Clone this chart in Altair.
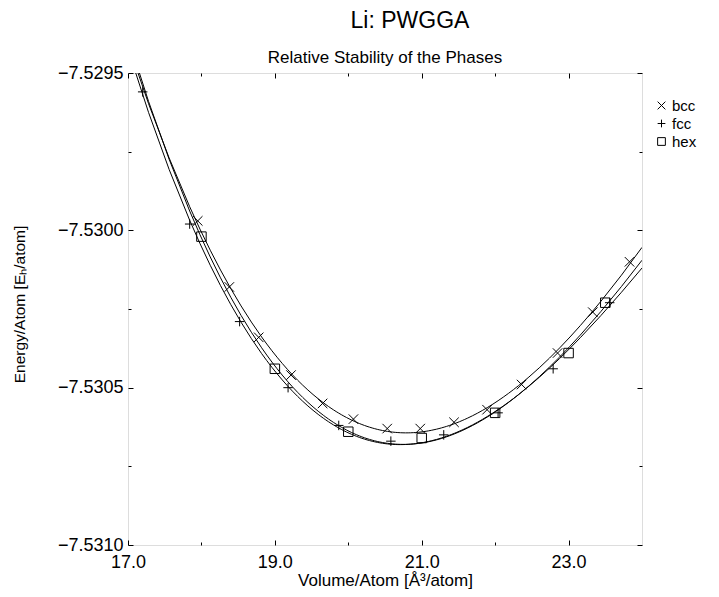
import altair as alt
import pandas as pd

FONT = "Liberation Sans"

phases = ["bcc", "fcc", "hex"]

bcc_v = [17.95, 18.38, 18.78, 19.22, 19.65, 20.07, 20.53, 20.98, 21.44, 21.89, 22.36, 22.85, 23.33, 23.83]
bcc_e = [-7.52997, -7.53018, -7.53034, -7.53046, -7.53055, -7.53060, -7.53063, -7.53063,
         -7.53061, -7.53057, -7.53049, -7.53039, -7.53026, -7.53010]

fcc_v = [17.20, 17.84, 18.52, 19.18, 19.87, 20.58, 21.30, 22.04, 22.79, 23.56]
fcc_e = [-7.52956, -7.52998, -7.53029, -7.53050, -7.53062, -7.53067, -7.53065, -7.53058,
         -7.53044, -7.53023]

hex_v = [18.0, 19.0, 20.0, 21.0, 22.0, 23.0, 23.5]
hex_e = [-7.53002, -7.53044, -7.53064, -7.53066, -7.53058, -7.53039, -7.53023]

x_major = [17, 19, 21, 23]
x_minor = [18, 20, 22]
y_major = [-7.5310, -7.5305, -7.5300, -7.5295]
y_minor = [-7.53075, -7.53025, -7.52975]

title_text = "Li: PWGGA"
subtitle_text = "Relative Stability of the Phases"
x_title = "Volume/Atom [Å³/atom]"
y_title = "Energy/Atom [Eₕ/atom]"

rows = []
for name, vs, es in [("bcc", bcc_v, bcc_e), ("fcc", fcc_v, fcc_e), ("hex", hex_v, hex_e)]:
    for v, e in zip(vs, es):
        rows.append({"phase": name, "V": v, "E": e})
df = pd.DataFrame(rows)

xs = alt.Scale(domain=[17, 24], nice=False, zero=False)
ys = alt.Scale(domain=[-7.5310, -7.5295], nice=False, zero=False)

base = alt.Chart(df)


def tick_axis(orient, values, size):
    return alt.Axis(orient=orient, values=values, tickSize=size, offset=-size,
                    domain=False, labels=False, grid=False, title=None,
                    tickColor="black", tickWidth=1)


lines = base.transform_regression(
    "V", "E", groupby=["phase"], method="poly", order=3, extent=[17, 24]
).mark_line(clip=True, color="black", strokeWidth=1).encode(
    x=alt.X("V:Q", scale=xs, axis=alt.Axis(
        orient="bottom", values=x_major, format=".1f", tickSize=5, offset=-5,
        domain=False, grid=False, labelFlush=False, labelFont=FONT, labelFontSize=18,
        labelColor="black", labelPadding=8, tickColor="black",
        title=x_title, titleFont=FONT, titleFontSize=17, titleFontWeight="normal",
        titleColor="black", titlePadding=1)),
    y=alt.Y("E:Q", scale=ys, axis=alt.Axis(
        orient="left", values=y_major, format=".4f", tickSize=5, offset=-5,
        domain=False, grid=False, labelFont=FONT, labelFontSize=18,
        labelColor="black", labelPadding=5, tickColor="black",
        title=y_title, titleFont=FONT, titleFontSize=15.5, titleFontWeight="normal",
        titleColor="black", titlePadding=30, titleY=231)),
    detail="phase:N",
)

shape_paths = ["M-1,-1L1,1M-1,1L1,-1", "M-1,0L1,0M0,-1L0,1", "square"]

points = base.mark_point(filled=False, color="black", strokeWidth=1, opacity=1, size=90).encode(
    x=alt.X("V:Q", scale=xs, axis=None),
    y=alt.Y("E:Q", scale=ys, axis=None),
    shape=alt.Shape("phase:N", scale=alt.Scale(domain=phases, range=shape_paths),
                    legend=alt.Legend(title=None, orient="none", legendX=526, legendY=25,
                                      labelFont=FONT, labelFontSize=15, labelColor="black",
                                      symbolSize=60, symbolStrokeWidth=1,
                                      symbolStrokeColor="black", symbolFillColor="white",
                                      rowPadding=2, labelOffset=3)),
)

minor_bl = base.mark_point(opacity=0).encode(
    x=alt.X("V:Q", scale=xs, axis=tick_axis("bottom", x_minor, 3)),
    y=alt.Y("E:Q", scale=ys, axis=tick_axis("left", y_minor, 3)),
)
major_tr = base.mark_point(opacity=0).encode(
    x=alt.X("V:Q", scale=xs, axis=tick_axis("top", x_major, 5)),
    y=alt.Y("E:Q", scale=ys, axis=tick_axis("right", y_major, 5)),
)
minor_tr = base.mark_point(opacity=0).encode(
    x=alt.X("V:Q", scale=xs, axis=tick_axis("top", x_minor, 3)),
    y=alt.Y("E:Q", scale=ys, axis=tick_axis("right", y_minor, 3)),
)

main_title = alt.Chart(pd.DataFrame({"t": [title_text]})).mark_text(
    font=FONT, fontSize=23, color="black", align="center", baseline="alphabetic"
).encode(text="t:N", x=alt.value(282), y=alt.value(-45))

subtitle = alt.Chart(pd.DataFrame({"t": [subtitle_text]})).mark_text(
    font=FONT, fontSize=17, color="black", align="center", baseline="alphabetic"
).encode(text="t:N", x=alt.value(257), y=alt.value(-10))

chart = alt.layer(lines, points, minor_bl, major_tr, minor_tr, main_title, subtitle).resolve_axis(
    x="independent", y="independent"
).properties(
    width=514, height=472,
    autosize=alt.AutoSizeParams(type="none"),
    padding={"left": 120, "top": 65, "right": 69, "bottom": 44},
).configure_view(stroke="black", strokeWidth=1).configure(background="white")

chart.save("out.html", embed_options={"renderer": "svg", "actions": False})
